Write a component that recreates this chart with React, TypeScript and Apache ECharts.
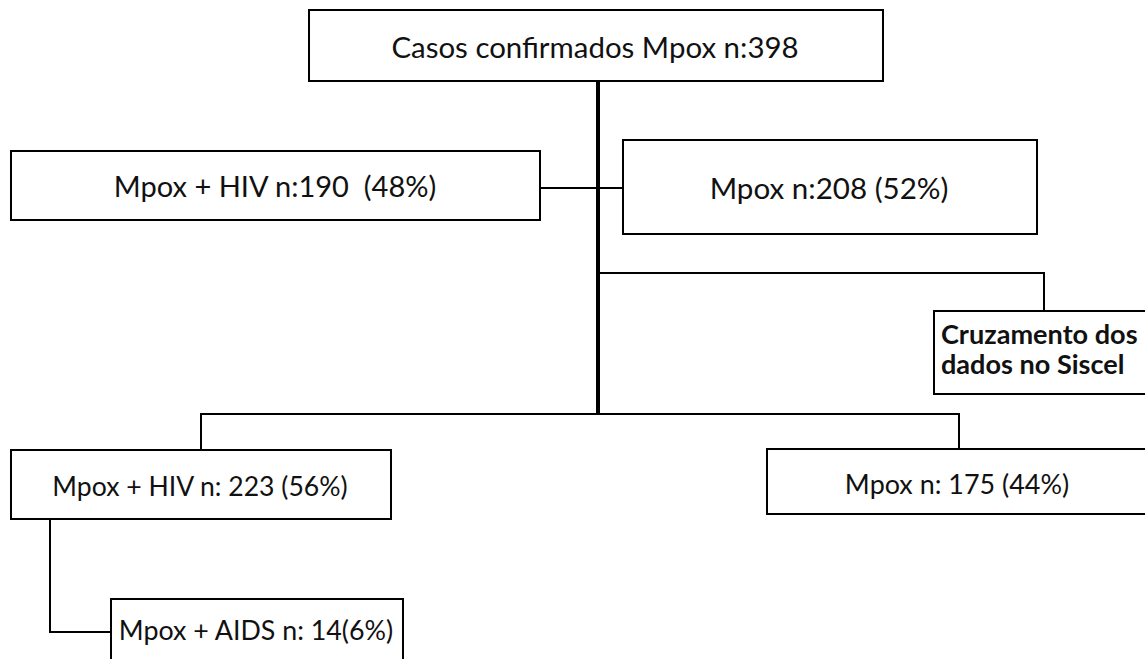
import React, { useEffect, useRef } from "react";
import * as echarts from "echarts";

// ---- data ----
const nodeNames = [
  "Casos confirmados Mpox",
  "Mpox + HIV",
  "Mpox",
  "Cruzamento dos\ndados no Siscel",
  "Mpox + HIV",
  "Mpox",
  "Mpox + AIDS",
];
const nodeCounts: (number | null)[] = [398, 190, 208, null, 223, 175, 14];
const nodeShares: (number | null)[] = [null, 48, 52, null, 56, 44, 6];
const nodeFormats = [
  "{name} n:{n}",
  "{name} n:{n}  ({p}%)",
  "{name} n:{n} ({p}%)",
  "{name}",
  "{name} n: {n} ({p}%)",
  "{name} n: {n} ({p}%)",
  "{name} n: {n}({p}%)",
];

// ---- layout (pixels) ----
const boxes = [
  { x: 309, y: 10, w: 574, h: 71, tx: 595, ty: 46, ink: 405, bold: false, align: "center" },
  { x: 11, y: 151, w: 529, h: 69, tx: 275, ty: 185, ink: 320, bold: false, align: "center" },
  { x: 623, y: 140, w: 414, h: 94, tx: 829, ty: 187, ink: 235, bold: false, align: "center" },
  { x: 934, y: 311, w: 240, h: 83, tx: 941, ty: 348, ink: 195, bold: true, align: "left" },
  { x: 11, y: 450, w: 380, h: 69, tx: 200, ty: 486, ink: 293, bold: false, align: "center" },
  { x: 767, y: 449, w: 420, h: 65, tx: 957, ty: 483, ink: 221, bold: false, align: "center" },
  { x: 111, y: 599, w: 292, h: 90, tx: 256, ty: 630, ink: 272, bold: false, align: "center" },
];

const FONT = "Lato";

function buildText(i: number) {
  return nodeFormats[i]
    .replace("{name}", nodeNames[i])
    .replace("{n}", String(nodeCounts[i] ?? ""))
    .replace("{p}", String(nodeShares[i] ?? ""));
}

function fitSize(text: string, bold: boolean, target: number) {
  const c = document.createElement("canvas");
  const ctx = c.getContext("2d");
  if (!ctx) return 29;
  ctx.font = `${bold ? "bold " : ""}100px ${FONT}`;
  const first = text.split("\n")[0];
  const m = ctx.measureText(first);
  const ink = (m.actualBoundingBoxLeft || 0) + (m.actualBoundingBoxRight || m.width);
  if (!ink) return 29;
  return (100 * target) / ink;
}

export default function App() {
  const ref = useRef<HTMLDivElement>(null);
  useEffect(() => {
    if (!ref.current) return;
    const chart = echarts.init(ref.current, undefined, { renderer: "svg" });
    const stroke = "#000";
    const thin = 2;

    const lines: any[] = [
      // main trunk
      { type: "line", shape: { x1: 598, y1: 81, x2: 598, y2: 415 }, style: { stroke, lineWidth: 4 } },
      // side connector between first-level boxes
      { type: "line", shape: { x1: 540, y1: 188, x2: 623, y2: 188 }, style: { stroke, lineWidth: thin } },
      // branch to Siscel
      { type: "polyline", shape: { points: [[598, 273], [1044, 273], [1044, 311]] }, style: { stroke, lineWidth: thin, fill: "none" } },
      // bottom split
      { type: "polyline", shape: { points: [[201, 450], [201, 414], [959, 414], [959, 449]] }, style: { stroke, lineWidth: thin, fill: "none" } },
      // HIV -> AIDS
      { type: "polyline", shape: { points: [[50, 519], [50, 632], [111, 632]] }, style: { stroke, lineWidth: thin, fill: "none" } },
    ];

    const rects = boxes.map((b) => ({
      type: "rect",
      shape: { x: b.x, y: b.y, width: b.w, height: b.h },
      style: { fill: "#fff", stroke, lineWidth: thin },
    }));

    const texts = boxes.map((b, i) => {
      const t = buildText(i);
      const size = fitSize(t, b.bold, b.ink);
      return {
        type: "text",
        x: b.tx,
        y: b.ty,
        style: {
          text: t,
          fontSize: size,
          fontFamily: FONT,
          fontWeight: b.bold ? "bold" : "normal",
          fill: "#111",
          align: b.align,
          verticalAlign: "middle",
          lineHeight: 30,
        },
      };
    });

    chart.setOption({
      animation: false,
      graphic: { elements: [...lines, ...rects, ...texts] },
    });
    return () => chart.dispose();
  }, []);

  return (
    <div
      ref={ref}
      style={{ position: "absolute", left: 0, top: 0, width: 1145, height: 659, background: "#fff" }}
    />
  );
}
